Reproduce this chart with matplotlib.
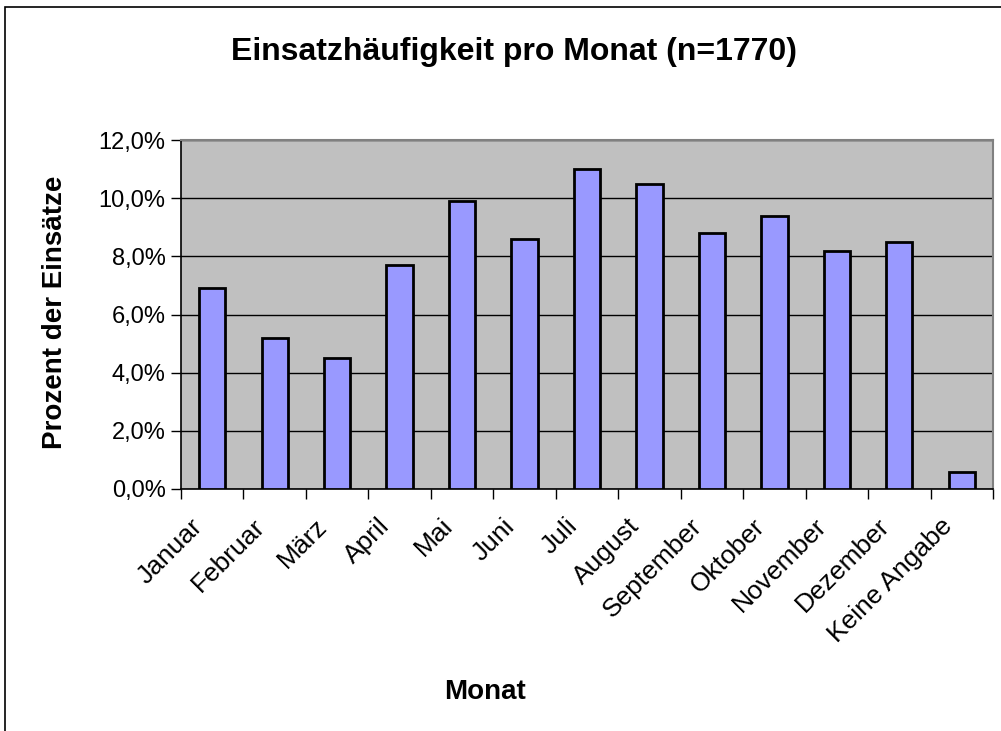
import matplotlib
matplotlib.use('Agg')
import matplotlib.pyplot as plt
import matplotlib.transforms as mtransforms
from matplotlib.patches import Rectangle
from matplotlib.ticker import FuncFormatter, MultipleLocator
import numpy as np

plt.rcParams['font.family'] = ['Liberation Sans', 'DejaVu Sans']

# ---------- Data ----------
months = ['Januar', 'Februar', 'März', 'April', 'Mai', 'Juni', 'Juli',
          'August', 'September', 'Oktober', 'November', 'Dezember',
          'Keine Angabe']
percent = [6.9, 5.2, 4.5, 7.7, 9.9, 8.6, 11.0, 10.5, 8.8, 9.4, 8.2, 8.5, 0.6]

# ---------- Figure ----------
fig = plt.figure(figsize=(10.01, 7.31), dpi=100)
fig.patches.append(Rectangle((5 / 1001, -0.01), 1.0, 1 - 7 / 731 + 0.01,
                             transform=fig.transFigure, fill=False,
                             edgecolor='black', linewidth=1.2))

ax = fig.add_axes([181 / 1001, 1 - 489 / 731, 812 / 1001, 349 / 731])
ax.set_facecolor('#C0C0C0')

x = np.arange(len(months))
ax.bar(x, percent, width=0.42, color='#9999FF', edgecolor='black',
       linewidth=2, zorder=3)

ax.set_xlim(-0.5, len(months) - 0.5)
ax.set_ylim(0, 12)
ax.yaxis.set_major_locator(MultipleLocator(2))
ax.yaxis.set_major_formatter(FuncFormatter(lambda v, p: f'{v:.1f}%'.replace('.', ',')))
ax.grid(axis='y', color='black', linewidth=1, zorder=1)

# category ticks at boundaries, labels at centers
ax.set_xticks(np.arange(len(months) + 1) - 0.5)
ax.set_xticklabels([])
ax.set_xticks(x, minor=True)
ax.set_xticklabels(months, minor=True, rotation=45, ha='right',
                   rotation_mode='anchor', fontsize=19)
ax.tick_params(axis='x', which='minor', length=0, pad=18)
ax.tick_params(axis='x', which='major', length=7, width=1, direction='out')
ax.tick_params(axis='y', length=7, width=1, direction='out', labelsize=17, pad=4)

# shift the rotated month labels a bit to the left, like the original
shift = mtransforms.ScaledTranslation(-22 / 100, 0, fig.dpi_scale_trans)
for lbl in ax.get_xticklabels(minor=True):
    lbl.set_transform(lbl.get_transform() + shift)

for s in ['top', 'right']:
    ax.spines[s].set_color('#808080')
    ax.spines[s].set_linewidth(1.5)
for s in ['left', 'bottom']:
    ax.spines[s].set_color('black')
    ax.spines[s].set_linewidth(1.2)

fig.text(514 / 1001, 1 - 52 / 731, 'Einsatzhäufigkeit pro Monat (n=1770)',
         ha='center', va='center', fontsize=23, fontweight='bold')
fig.text(55 / 1001, 1 - 312 / 731, 'Prozent der Einsätze', rotation=90,
         ha='center', va='center', fontsize=20, fontweight='bold')
fig.text(485 / 1001, 1 - 692 / 731, 'Monat', ha='center', va='center',
         fontsize=20, fontweight='bold')

fig.savefig('out.png', dpi=100)
